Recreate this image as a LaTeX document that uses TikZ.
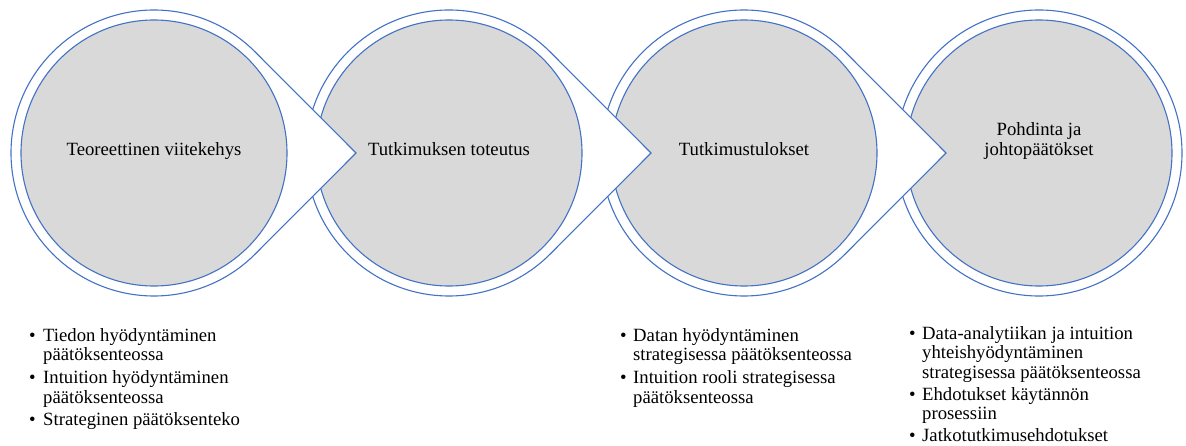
\documentclass[tikz,border=0pt]{standalone}
\usepackage{fontspec}
\setmainfont{Liberation Serif}
\newfontfamily\stageserif{Liberation Serif}
\usetikzlibrary{calc}
\definecolor{ringblue}{HTML}{4472C4}
\definecolor{coregray}{HTML}{D9D9D9}
\newcommand{\stagefont}{\stageserif\fontsize{18.7}{19.7}\selectfont}
\begin{document}
\begin{tikzpicture}[x=1pt,y=1pt,
  ring/.style={draw=ringblue, fill=white, line width=1.1pt, line join=miter},
  core/.style={circle, draw=ringblue, fill=coregray, line width=1.1pt,
    minimum size=266pt, inner sep=0pt, align=center, font=\stagefont,
    text height=0.7em, text depth=0.25em},
  listtext/.style={anchor=base west, inner sep=0pt, font=\stagefont}]
\useasboundingbox (0,0) rectangle (1186,445);

% stage centres
\coordinate (s1) at (154,292);
\coordinate (s2) at (449,292);
\coordinate (s3) at (744,292);
\coordinate (s4) at (1039,292);

% last stage: plain ring
\draw[ring] (s4) circle[radius=143pt];
\node[core] (c4) at (s4) {Pohdinta ja\\johtopäätökset};

% earlier stages: ring with a pointer into the next stage, drawn right to left
\foreach \s/\name/\txt in {s3/c3/Tutkimustulokset, s2/c2/Tutkimuksen toteutus, s1/c1/Teoreettinen viitekehys}{
  \draw[ring] ($(\s)+(45:143pt)$) -- ($(\s)+(202pt,0)$) -- ($(\s)+(-45:143pt)$)
    arc[start angle=-45, end angle=-315, radius=143pt] -- cycle;
  \node[core] (\name) at (\s) {\txt};
}

% bullet lists below the stages
\node[listtext] (l1) at (29,104) {\begin{tabular}[t]{@{}p{14pt}@{}l@{}}
  \textbullet & Tiedon hyödyntäminen\\
              & päätöksenteossa\\[3pt]
  \textbullet & Intuition hyödyntäminen\\
              & päätöksenteossa\\[3pt]
  \textbullet & Strateginen päätöksenteko
\end{tabular}};

\node[listtext] (l3) at (620,104) {\begin{tabular}[t]{@{}p{13pt}@{}l@{}}
  \textbullet & Datan hyödyntäminen\\
              & strategisessa päätöksenteossa\\[3pt]
  \textbullet & Intuition rooli strategisessa\\
              & päätöksenteossa
\end{tabular}};

\node[listtext] (l4) at (909,106) {\begin{tabular}[t]{@{}p{13pt}@{}l@{}}
  \textbullet & Data-analytiikan ja intuition\\
              & yhteishyödyntäminen\\
              & strategisessa päätöksenteossa\\[2pt]
  \textbullet & Ehdotukset käytännön\\
              & prosessiin\\[2pt]
  \textbullet & Jatkotutkimusehdotukset
\end{tabular}};
\end{tikzpicture}
\end{document}
